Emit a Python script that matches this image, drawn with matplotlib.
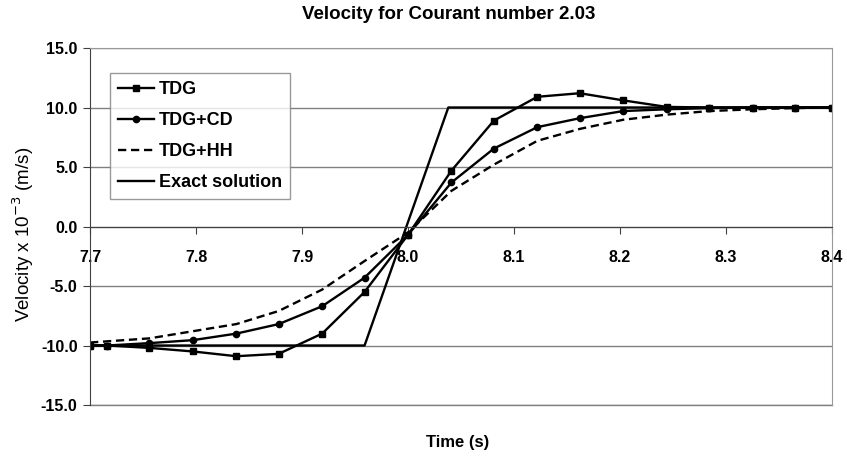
import matplotlib
matplotlib.use("Agg")
from matplotlib import pyplot as plt

# donnees
t = [7.7, 7.716, 7.756, 7.797, 7.838, 7.878, 7.919, 7.959, 8.0, 8.041, 8.081,
     8.122, 8.162, 8.203, 8.244, 8.284, 8.325, 8.365, 8.4]
tdg = [-10.0, -10.0, -10.2, -10.5, -10.9, -10.7, -9.0, -5.5, -0.7, 4.7, 8.9,
       10.9, 11.2, 10.6, 10.05, 10.0, 10.0, 10.0, 10.0]
tdg_cd = [-10.0, -10.0, -9.8, -9.55, -9.0, -8.2, -6.7, -4.3, -0.7, 3.7, 6.55,
          8.35, 9.1, 9.7, 9.85, 9.95, 10.0, 10.0, 10.0]
tdg_hh = [-9.75, -9.65, -9.4, -8.8, -8.2, -7.1, -5.3, -2.9, -0.5, 3.0, 5.2,
          7.2, 8.2, 8.97, 9.4, 9.7, 9.85, 9.95, 10.0]
t_exact = [7.7, 7.959, 8.038, 8.4]
v_exact = [-10.0, -10.0, 10.0, 10.0]

xticks = [7.7, 7.8, 7.9, 8.0, 8.1, 8.2, 8.3, 8.4]
yticks = [-15, -10, -5, 0, 5, 10, 15]

plt.rcParams["font.family"] = ["Liberation Sans", "DejaVu Sans"]
fig = plt.figure(figsize=(8.47, 4.58), dpi=100)
ax = fig.add_axes([0.1063, 0.1157, 0.8760, 0.7795])

# axe des x sur y=0 comme dans excel (avant les labels, sinon ils sont remis a zero)
ax.spines["bottom"].set_position(("data", 0))

ax.plot(t, tdg, color="black", lw=1.7, marker="s", ms=4.5, label="TDG")
ax.plot(t, tdg_cd, color="black", lw=1.7, marker="o", ms=4.5, label="TDG+CD")
ax.plot(t, tdg_hh, color="black", lw=1.7, ls=(0, (3.5, 2)), label="TDG+HH")
ax.plot(t_exact, v_exact, color="black", lw=1.7, label="Exact solution")

ax.set_xlim(7.7, 8.4)
ax.set_ylim(-15, 15)
ax.set_xticks(xticks)
ax.set_yticks(yticks)
ax.set_xticklabels(["%.1f" % v for v in xticks], fontweight="bold", fontsize=11.5)
ax.set_yticklabels(["%.1f" % v for v in yticks], fontweight="bold", fontsize=11.5)
ax.yaxis.grid(True, color="#808080", lw=1)
ax.axhline(-15, color="#808080", lw=1, clip_on=False, zorder=0)
ax.set_axisbelow(True)

ax.spines["bottom"].set_color("#404040")
ax.spines["left"].set_color("#404040")
ax.spines["top"].set_color("#999999")
ax.spines["right"].set_color("#999999")
ax.tick_params(axis="x", direction="out", length=5, pad=12, color="#404040")
ax.tick_params(axis="y", direction="out", length=5, pad=4, color="#404040")

fig.text(0.53, 0.969, "Velocity for Courant number 2.03", ha="center", va="center",
         fontweight="bold", fontsize=13.5)
fig.text(0.54, 0.033, "Time (s)", ha="center", va="center", fontweight="bold", fontsize=12)
fig.text(0.027, 0.489, "Velocity x 10$^{-3}$ (m/s)", rotation=90, ha="center", va="center",
         fontsize=13.5)

leg = ax.legend(loc="upper left", bbox_to_anchor=(0.027, 0.93),
                prop={"weight": "bold", "size": 13}, frameon=True, fancybox=False,
                edgecolor="#808080", handlelength=2.0, handletextpad=0.25,
                borderpad=0.45, labelspacing=0.78, borderaxespad=0)
leg.get_frame().set_linewidth(1)

fig.savefig("out.png", dpi=100)
